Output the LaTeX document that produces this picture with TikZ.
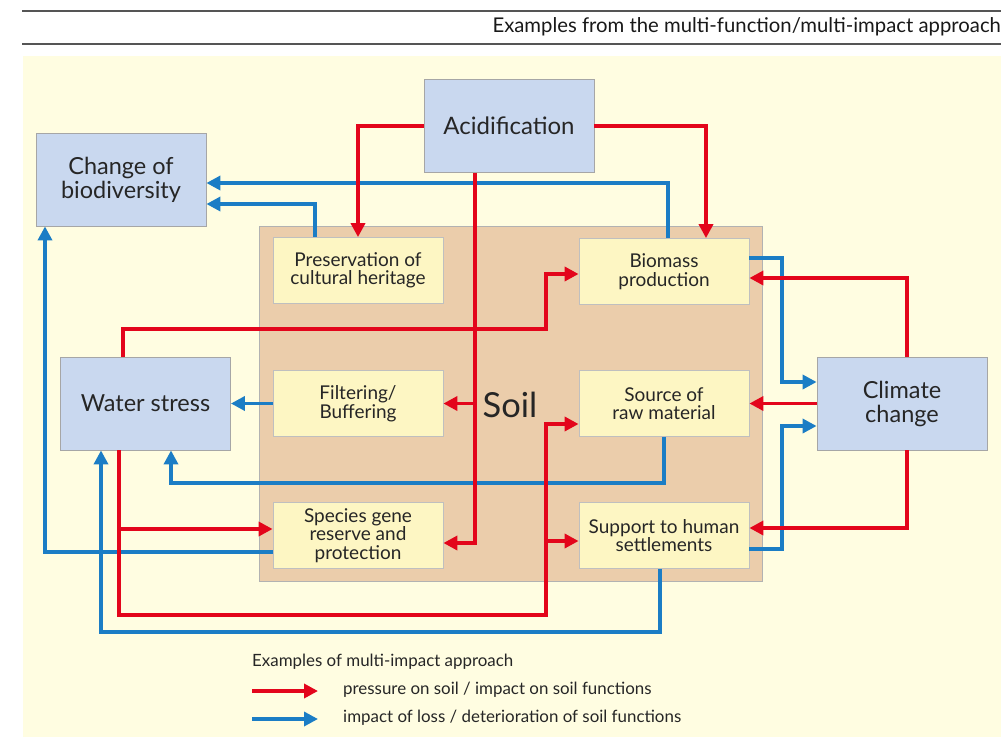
\documentclass[tikz,border=0pt]{standalone}
\usepackage{fontspec}
\setmainfont{Lato}
\usetikzlibrary{calc,arrows.meta}
\definecolor{cream}{HTML}{FFFDE1}
\definecolor{soiltan}{HTML}{EBCDAB}
\definecolor{fnyellow}{HTML}{FDF6C3}
\definecolor{impblue}{HTML}{C9D8EF}
\definecolor{pred}{HTML}{E3051B}
\definecolor{pblue}{HTML}{1B7DC5}
\definecolor{rulegrey}{HTML}{555555}
\tikzset{
  bluebox/.style={draw=black!35,line width=0.8pt,fill=impblue,minimum width=170pt,minimum height=93pt,inner sep=0pt,align=center,font=\fontsize{23.5}{24}\selectfont,text=black!85},
  fnbox/.style={draw=black!25,line width=0.8pt,fill=fnyellow,minimum width=170pt,minimum height=66pt,inner sep=0pt,align=center,font=\fontsize{19}{18.5}\selectfont,text=black!85},
  redarr/.style={draw=pred,line width=3.8pt,-{Triangle[length=14pt,width=14pt]}},
  bluearr/.style={draw=pblue,line width=3.4pt,-{Triangle[length=14pt,width=14pt]}},
  legtext/.style={anchor=west,font=\fontsize{16.9}{18}\selectfont,text=black!85,inner sep=0pt}
}
\begin{document}
\begin{tikzpicture}[x=1pt,y=-1pt]
\useasboundingbox (0,0) rectangle (1001,737);
\fill[white] (0,0) rectangle (1001,737);
% header
\draw[rulegrey,line width=1.5pt] (22,11) -- (1001,11);
\draw[rulegrey,line width=1.5pt] (22,44) -- (1001,44);
\node[anchor=east,inner sep=0pt,font=\fontsize{20.3}{22}\selectfont,text=black!90] (title) at (1001,27) {Examples from the multi-function/multi-impact approach};
% background
\fill[cream] (23,56) rectangle (1001,737);
% soil
\draw[fill=soiltan,draw=black!30,line width=0.8pt] (259,226) rectangle (762,581);
\node[inner sep=0pt,font=\fontsize{34.5}{36}\selectfont,text=black!85] (soil) at (510,405) {Soil};
% impact boxes
\node[bluebox,font=\fontsize{24}{24}\selectfont] (acid) at (509,126) {Acidification};
\node[bluebox] (bio) at (121,179.5) {Change of\\biodiversity};
\node[bluebox] (water) at (145.5,403.5) {Water stress};
\node[bluebox] (clim) at (902,403.5) {Climate\\change};
% function boxes
\node[fnbox] (pres) at (358,270.5) {Preservation of\\cultural heritage};
\node[fnbox] (biom) at (664,271.5) {Biomass\\production};
\node[fnbox] (filt) at (358,403.5) {Filtering/\\Buffering};
\node[fnbox] (src) at (664,403.5) {Source of\\raw material};
\node[fnbox] (spec) at (358,535.5) {Species gene\\reserve and\\protection};
\node[fnbox] (supp) at (664,535.5) {Support to human\\settlements};
% blue connectors
\draw[bluearr] ($(biom.north)+(4,0)$) |- ($(bio.east)+(0,3.5)$);
\draw[bluearr] ($(pres.north)+(-43,0)$) |- ($(bio.east)+(0,24.5)$);
\draw[bluearr] ($(spec.west)+(0,16.5)$) -| ($(bio.south)+(-76,0)$);
\draw[bluearr] (filt.west) -- (filt.west -| water.east);
\draw[bluearr] (src.south) |- (171,483) -| ($(water.south)+(25.5,0)$);
\draw[bluearr] ($(supp.south)+(-4,0)$) |- (101,632) -| ($(water.south)+(-44.5,0)$);
\draw[bluearr] ($(biom.east)+(0,-13.5)$) -| (782,382) -- ($(clim.west)+(0,-21.5)$);
\draw[bluearr] ($(supp.east)+(0,13.5)$) -| (782,426) -- ($(clim.west)+(0,22.5)$);
% red connectors
\draw[redarr] (acid.west) -| (pres.north);
\draw[redarr] (acid.east) -| ($(biom.north)+(42,0)$);
\draw[redarr] ($(acid.south)+(-34,0)$) |- ($(spec.east)+(0,7.5)$);
\coordinate (acidbr) at (475,403.5);
\draw[redarr] (acidbr) -- (filt.east);
\draw[redarr] ($(water.north)+(-22.5,0)$) |- (546,329) |- ($(biom.west)+(0,2.5)$);
\draw[redarr] ($(water.south)+(-26.5,0)$) |- (546,615) |- ($(src.west)+(0,20.5)$);
\coordinate (wsbr1) at (546,541);
\draw[redarr] (wsbr1) -- ($(supp.west)+(0,5.5)$);
\coordinate (wsbr2) at (119,529);
\draw[redarr] (wsbr2) -- ($(spec.west)+(0,-6.5)$);
\draw[redarr] ($(clim.north)+(5,0)$) |- ($(biom.east)+(0,6.5)$);
\draw[redarr] (clim.west) -- (clim.west -| src.east);
\draw[redarr] ($(clim.south)+(5,0)$) |- ($(supp.east)+(0,-7.5)$);
% legend
\node[legtext] (legtitle) at (252,662) {Examples of multi-impact approach};
\coordinate (lr1) at (252,691);
\coordinate (lr2) at (318,691);
\coordinate (lb1) at (252,719);
\coordinate (lb2) at (318,719);
\draw[redarr] (lr1) -- (lr2);
\draw[bluearr] (lb1) -- (lb2);
\node[legtext] (legred) at (343,690) {pressure on soil / impact on soil functions};
\node[legtext] (legblue) at (343,718) {impact of loss / deterioration of soil functions};
\end{tikzpicture}
\end{document}
